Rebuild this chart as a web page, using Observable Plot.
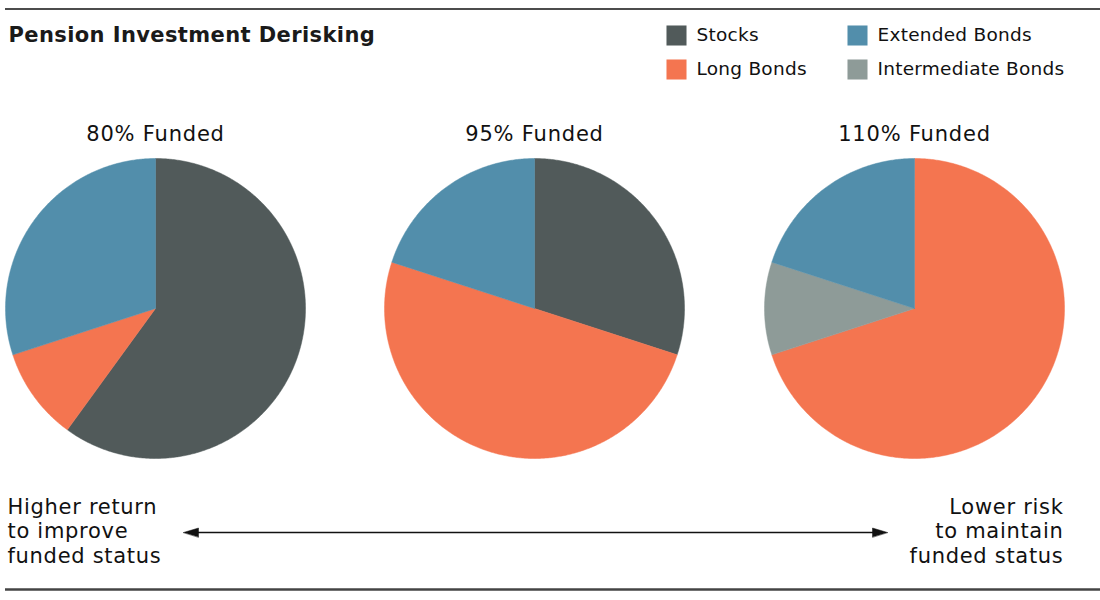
<!DOCTYPE html>
<html><head><meta charset="utf-8">
<script src="https://cdn.jsdelivr.net/npm/d3@7"></script>
<script src="https://cdn.jsdelivr.net/npm/@observablehq/plot@0.6"></script>
<style>html,body{margin:0;padding:0;background:#fff}</style>
</head><body><div id="chart"></div>
<script>
// ---- data ----
const categories = ["Stocks", "Long Bonds", "Intermediate Bonds", "Extended Bonds"];
const colors = ["#515a5a", "#f47550", "#8e9b98", "#528eab"];
const fundedLabels = ["80% Funded", "95% Funded", "110% Funded"];
const stocks = [60, 30, 0];
const longBonds = [10, 50, 70];
const intermediateBonds = [0, 0, 10];
const extendedBonds = [30, 20, 20];
const legendOrder = ["Stocks", "Long Bonds", "Extended Bonds", "Intermediate Bonds"];
const title = "Pension Investment Derisking";
const leftNote = "Higher return\nto improve\nfunded status";
const rightNote = "Lower risk\nto maintain\nfunded status";

// ---- layout ----
const W = 1100, H = 600;
const centers = [155, 534, 914], cy = 308, R = 150;
const legendPos = [[676, 35], [676, 69], [857, 35], [857, 69]];
const font = "'DejaVu Sans', sans-serif";
// letter-spacing for the text marks, in mark order: title, legend, pie labels, left note, right note
const spacings = ["0.4px", "0.25px", "0.8px", "0.7px", "0.7px"];

const series = [stocks, longBonds, intermediateBonds, extendedBonds];
const pts = [];
fundedLabels.forEach((label, i) => {
  const rows = categories.map((c, k) => ({category: c, value: series[k][i]}));
  const arcs = d3.pie().sort(null).value(d => d.value)(rows);
  arcs.forEach(a => {
    if (a.data.value <= 0) return;
    const id = label + "|" + a.data.category, category = a.data.category;
    const n = Math.max(2, Math.ceil((a.endAngle - a.startAngle) / (Math.PI / 360)));
    pts.push({id, category, x: centers[i], y: cy});
    for (let j = 0; j <= n; j++) {
      const t = a.startAngle + (a.endAngle - a.startAngle) * j / n;
      pts.push({id, category, x: centers[i] + R * Math.sin(t), y: cy - R * Math.cos(t)});
    }
    pts.push({id, category, x: centers[i], y: cy});
  });
});

const arrowY = 532;
const heads = [
  {id: "l", x: 183, y: arrowY}, {id: "l", x: 198, y: arrowY - 4.5}, {id: "l", x: 198, y: arrowY + 4.5},
  {id: "r", x: 887, y: arrowY}, {id: "r", x: 872, y: arrowY - 4.5}, {id: "r", x: 872, y: arrowY + 4.5}
];

const chart = Plot.plot({
  width: W, height: H, margin: 0,
  x: {domain: [0, W], range: [0, W], axis: null},
  y: {domain: [0, H], range: [0, H], axis: null},
  color: {domain: categories, range: colors},
  style: {fontFamily: font, background: "#fff", color: "#111"},
  marks: [
    Plot.ruleY([8.5], {x1: 5, x2: W, stroke: "#111", strokeWidth: 1.5}),
    Plot.ruleY([589], {x1: 5, x2: W, stroke: "#444", strokeWidth: 2.5}),
    Plot.text([title], {x: 8, y: 35, text: d => d, textAnchor: "start", fontSize: 21, fontWeight: 600, fill: "#1a1a1a"}),
    Plot.dot(legendOrder, {x: (d, i) => legendPos[i][0], y: (d, i) => legendPos[i][1], fill: d => d, symbol: "square", r: 11.3, stroke: "none"}),
    Plot.text(legendOrder, {x: (d, i) => legendPos[i][0] + 20, y: (d, i) => legendPos[i][1], text: d => d, textAnchor: "start", fontSize: 18.5, fill: "#111"}),
    Plot.line(pts, {x: "x", y: "y", z: "id", fill: "category", stroke: "category", strokeWidth: 0.5, curve: "linear"}),
    Plot.text(fundedLabels, {x: (d, i) => centers[i], y: 134, text: d => d, textAnchor: "middle", fontSize: 21, fill: "#111"}),
    Plot.text([leftNote], {x: 7, y: 530, text: d => d, textAnchor: "start", fontSize: 21, lineHeight: 1.17, fill: "#111"}),
    Plot.text([rightNote], {x: 1063, y: 530, text: d => d, textAnchor: "end", fontSize: 21, lineHeight: 1.17, fill: "#111"}),
    Plot.ruleY([arrowY], {x1: 195, x2: 875, stroke: "#111", strokeWidth: 1.5}),
    Plot.line(heads, {x: "x", y: "y", z: "id", fill: "#111", stroke: "#111", strokeWidth: 0.5, curve: "linear-closed"})
  ]
});
d3.select(chart).selectAll('g[aria-label="text"]').each(function(_, i) {
  if (spacings[i]) this.setAttribute("letter-spacing", spacings[i]);
});
document.getElementById("chart").appendChild(chart);
</script>
</body></html>
